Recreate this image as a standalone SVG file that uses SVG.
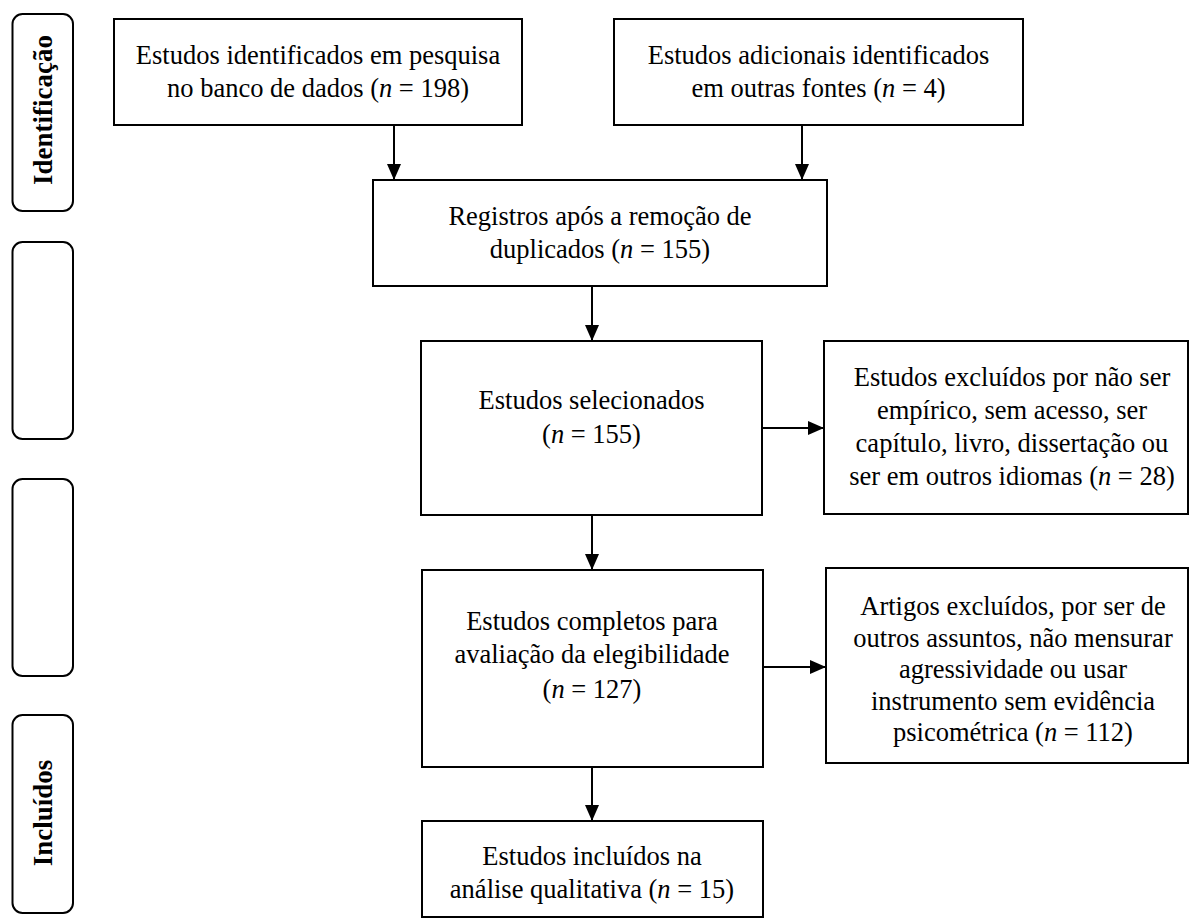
<svg xmlns="http://www.w3.org/2000/svg" width="1192" height="919" viewBox="0 0 1192 919">
<style>
.box{fill:#fff;stroke:#000;stroke-width:2}
.side{fill:#fff;stroke:#000;stroke-width:2}
.t{font-family:"Liberation Serif","Times New Roman",serif;font-size:26.5px;fill:#000;text-anchor:middle}
.lab{font-family:"Liberation Serif","Times New Roman",serif;font-size:27px;font-weight:bold;fill:#000;text-anchor:middle}
.i{font-style:italic}
.c{stroke:#000;stroke-width:2;fill:none;marker-end:url(#ah)}
</style>
<defs>
<marker id="ah" markerUnits="userSpaceOnUse" markerWidth="16" markerHeight="14" refX="16" refY="7" orient="auto">
<path d="M0,0 L16,7 L0,14 Z" fill="#000"/>
</marker>
</defs>
<rect width="1192" height="919" fill="#fff"/>
<g id="stage-identificacao">
<rect class="side" x="12.5" y="14" width="60.5" height="197" rx="10"/>
<text class="lab" transform="translate(51.5,110) rotate(-90)">Identificação</text>
</g>
<g id="stage-2"><rect class="side" x="12.5" y="242" width="60.5" height="197" rx="10"/></g>
<g id="stage-3"><rect class="side" x="12.5" y="479" width="60.5" height="197" rx="10"/></g>
<g id="stage-incluidos">
<rect class="side" x="12.5" y="715" width="60.5" height="198" rx="10"/>
<text class="lab" transform="translate(51.5,813) rotate(-90)">Incluídos</text>
</g>
<g id="connectors">
<line class="c" x1="394" y1="125" x2="394" y2="180"/>
<line class="c" x1="802" y1="125" x2="802" y2="180"/>
<line class="c" x1="592" y1="286" x2="592" y2="341"/>
<line class="c" x1="762" y1="428" x2="824" y2="428"/>
<line class="c" x1="592" y1="515" x2="592" y2="570"/>
<line class="c" x1="763" y1="667" x2="826" y2="667"/>
<line class="c" x1="592" y1="767" x2="592" y2="821"/>
</g>
<g id="n1">
<rect class="box" x="114" y="19" width="408" height="106"/>
<text class="t" x="318" y="64">Estudos identificados em pesquisa</text>
<text class="t" x="318" y="97">no banco de dados (<tspan class="i">n</tspan> = 198)</text>
</g>
<g id="n2">
<rect class="box" x="614" y="19" width="409" height="106"/>
<text class="t" x="818.5" y="64">Estudos adicionais identificados</text>
<text class="t" x="818.5" y="97">em outras fontes (<tspan class="i">n</tspan> = 4)</text>
</g>
<g id="n3">
<rect class="box" x="373" y="180" width="454" height="106"/>
<text class="t" x="600" y="225">Registros após a remoção de</text>
<text class="t" x="600" y="258">duplicados (<tspan class="i">n</tspan> = 155)</text>
</g>
<g id="n4">
<rect class="box" x="421" y="341" width="341" height="174"/>
<text class="t" x="591.5" y="409">Estudos selecionados</text>
<text class="t" x="591.5" y="443">(<tspan class="i">n</tspan> = 155)</text>
</g>
<g id="n5">
<rect class="box" x="824" y="341" width="364" height="173"/>
<text class="t" x="1012" y="386">Estudos excluídos por não ser</text>
<text class="t" x="1012" y="419">empírico, sem acesso, ser</text>
<text class="t" x="1012" y="452">capítulo, livro, dissertação ou</text>
<text class="t" x="1012" y="485">ser em outros idiomas (<tspan class="i">n</tspan> = 28)</text>
</g>
<g id="n6">
<rect class="box" x="422" y="570" width="341" height="197"/>
<text class="t" x="592" y="630">Estudos completos para</text>
<text class="t" x="592" y="663">avaliação da elegibilidade</text>
<text class="t" x="592" y="698">(<tspan class="i">n</tspan> = 127)</text>
</g>
<g id="n7">
<rect class="box" x="826" y="568" width="362" height="195"/>
<text class="t" x="1013" y="615">Artigos excluídos, por ser de</text>
<text class="t" x="1013" y="646.5">outros assuntos, não mensurar</text>
<text class="t" x="1013" y="678">agressividade ou usar</text>
<text class="t" x="1013" y="709.5">instrumento sem evidência</text>
<text class="t" x="1013" y="741">psicométrica (<tspan class="i">n</tspan> = 112)</text>
</g>
<g id="n8">
<rect class="box" x="422" y="821" width="341" height="96"/>
<text class="t" x="592" y="865">Estudos incluídos na</text>
<text class="t" x="592" y="898">análise qualitativa (<tspan class="i">n</tspan> = 15)</text>
</g>
</svg>
